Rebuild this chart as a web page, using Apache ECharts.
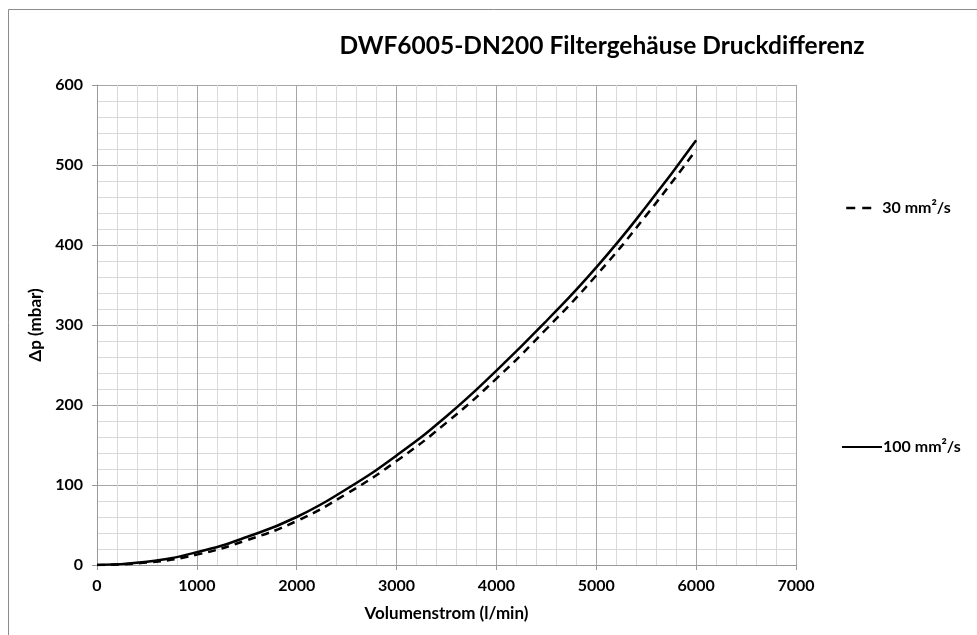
<!DOCTYPE html>
<html>
<head>
<meta charset="utf-8">
<script src="https://cdn.jsdelivr.net/npm/echarts@6/dist/echarts.min.js"></script>
<style>
  html, body { margin: 0; padding: 0; background: #fff; }
  #chart { width: 977px; height: 635px; }
</style>
</head>
<body>
<div id="chart"></div>
<script>
// Volumenstrom (l/min)
const flow = [0, 500, 1000, 1500, 2000, 2500, 3000, 3500, 4000, 4500, 5000, 5500, 6000];
// Druckdifferenz (mbar)
const dp30 = [0, 3, 13, 31, 55, 89, 130, 178, 233, 295, 362, 437, 519];
const dp100 = [0, 4, 16, 35, 60, 95, 137, 186, 243, 305, 372, 448, 531];

const font = 'Lato, "Open Sans", sans-serif';
const txt = { fontFamily: font, fontWeight: 'bold', color: '#000' };

const chart = echarts.init(document.getElementById('chart'));

const option = {
  animation: false,
  title: {
    text: 'DWF6005-DN200 Filtergehäuse Druckdifferenz',
    left: 597,
    top: 29,
    textAlign: 'center',
    textStyle: Object.assign({ fontSize: 24.5 }, txt)
  },
  graphic: [{
    type: 'rect',
    shape: { x: 8.5, y: 9.5, width: 1000, height: 700 },
    style: { fill: 'none', stroke: '#8c8c8c', lineWidth: 1 },
    silent: true
  }],
  legend: [{
    data: [{ name: '30 mm²/s', lineStyle: { type: [9, 7], width: 2.5 } }],
    left: 840,
    top: 195,
    itemWidth: 27,
    itemHeight: 14,
    itemGap: 0,
    itemStyle: { color: 'transparent', borderWidth: 0 },
    textStyle: Object.assign({ fontSize: 16, padding: [0, 0, 0, 4] }, txt)
  }, {
    data: ['100 mm²/s'],
    left: 836,
    top: 434,
    itemWidth: 40,
    itemHeight: 14,
    itemStyle: { color: 'transparent', borderWidth: 0 },
    textStyle: Object.assign({ fontSize: 16, padding: [0, 0, 0, -4] }, txt)
  }],
  grid: { left: 97, right: 181, top: 85, bottom: 70 },
  xAxis: {
    type: 'value',
    min: 0, max: 7000, interval: 1000,
    name: 'Volumenstrom (l/min)',
    nameLocation: 'middle',
    nameGap: 40,
    nameTextStyle: Object.assign({ fontSize: 17 }, txt),
    axisLine: { show: true, lineStyle: { color: '#999' } },
    axisTick: { show: true, length: 5, lineStyle: { color: '#999' } },
    axisLabel: Object.assign({ fontSize: 16, margin: 13, formatter: v => String(v) }, txt),
    splitLine: { show: true, lineStyle: { color: '#a6a6a6' } },
    minorTick: { show: false, splitNumber: 5 },
    minorSplitLine: { show: true, lineStyle: { color: '#d9d9d9' } }
  },
  yAxis: {
    type: 'value',
    min: 0, max: 600, interval: 100,
    name: 'Δp (mbar)',
    nameLocation: 'middle',
    nameGap: 44,
    nameTextStyle: Object.assign({ fontSize: 17 }, txt),
    axisLine: { show: true, lineStyle: { color: '#999' } },
    axisTick: { show: true, length: 5, lineStyle: { color: '#999' } },
    axisLabel: Object.assign({ fontSize: 16, margin: 14, formatter: v => String(v) }, txt),
    splitLine: { show: true, lineStyle: { color: '#a6a6a6' } },
    minorTick: { show: false, splitNumber: 5 },
    minorSplitLine: { show: true, lineStyle: { color: '#d9d9d9' } }
  },
  series: [{
    name: '30 mm²/s',
    type: 'line',
    smooth: true,
    symbol: 'none',
    data: flow.map((x, i) => [x, dp30[i]]),
    lineStyle: { color: '#000', width: 2.5, type: [8, 6] },
    itemStyle: { color: '#000' }
  }, {
    name: '100 mm²/s',
    type: 'line',
    smooth: true,
    symbol: 'none',
    data: flow.map((x, i) => [x, dp100[i]]),
    lineStyle: { color: '#000', width: 2.5 },
    itemStyle: { color: '#000' }
  }]
};

chart.setOption(option);
</script>
</body>
</html>
